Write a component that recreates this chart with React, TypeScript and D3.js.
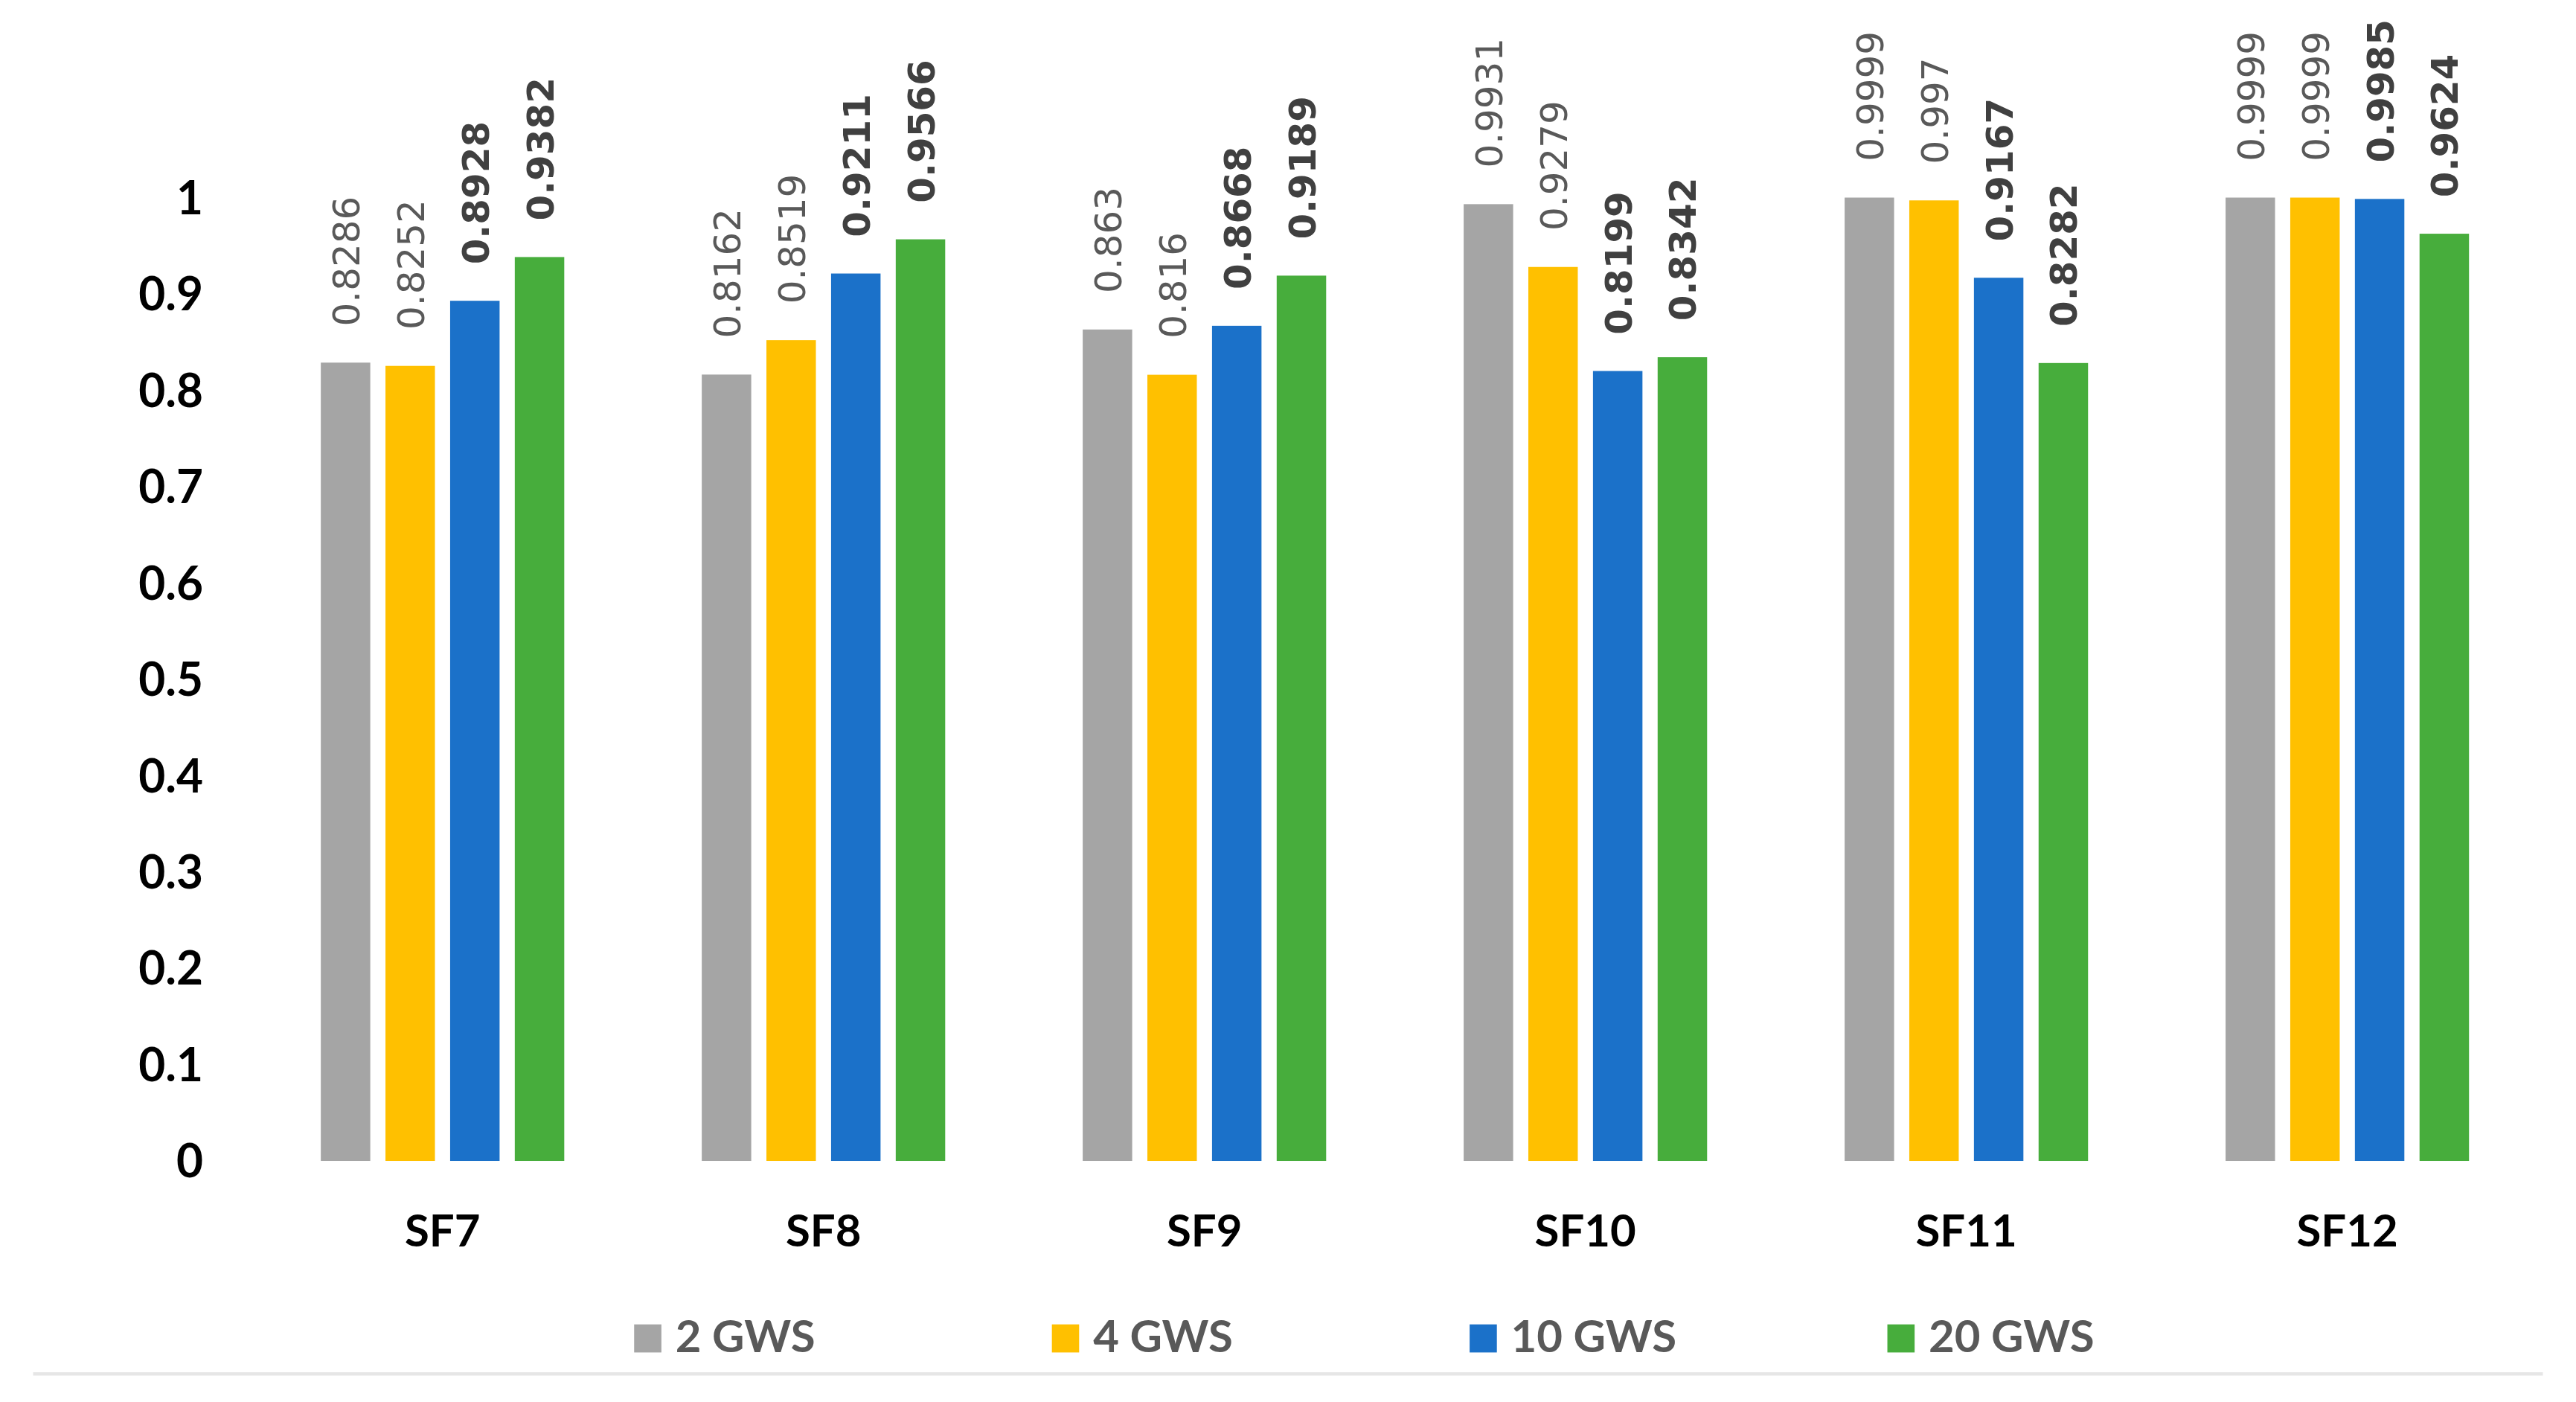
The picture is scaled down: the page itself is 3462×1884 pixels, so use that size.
import React from 'react'
import * as d3 from 'd3'

const categories = ['SF7', 'SF8', 'SF9', 'SF10', 'SF11', 'SF12']
const seriesNames = ['2 GWS', '4 GWS', '10 GWS', '20 GWS']
const gws2 = [0.8286, 0.8162, 0.863, 0.9931, 0.9999, 0.9999]
const gws4 = [0.8252, 0.8519, 0.816, 0.9279, 0.997, 0.9999]
const gws10 = [0.8928, 0.9211, 0.8668, 0.8199, 0.9167, 0.9985]
const gws20 = [0.9382, 0.9566, 0.9189, 0.8342, 0.8282, 0.9624]
const yTicks = [0, 0.1, 0.2, 0.3, 0.4, 0.5, 0.6, 0.7, 0.8, 0.9, 1]

const colors = ['#a5a5a5', '#ffc000', '#1b71c9', '#47ad3c']
const allSeries = [gws2, gws4, gws10, gws20]

const W = 1560
const H = 849

const App: React.FC = () => {
  React.useEffect(() => {
    document.body.style.margin = '0'
  }, [])

  const x0 = d3
    .scaleBand<string>()
    .domain(categories)
    .range([152.6, 1536.9])
    .paddingInner(0.361)
    .paddingOuter(0.1805)

  const x1 = d3
    .scaleBand<string>()
    .domain(seriesNames)
    .range([0, x0.bandwidth()])
    .paddingInner(0.235)

  const y = d3.scaleLinear().domain([0, 1]).range([703, 119.6])

  const legendX = d3.scalePoint<string>().domain(seriesNames).range([384, 1143])

  const labelSize = 22.5

  return (
    <svg width={3462} height={1884} viewBox={`0 0 ${W} ${H}`} style={{ display: 'block' }}>
      <rect width={W} height={H} fill="#fff" />

      {/* y tick labels */}
      <g fontFamily="Lato" fontWeight="bold" fontSize={28} fill="#000" textAnchor="end">
        {yTicks.map((t) => (
          <text key={t} x={123} y={y(t)} dy="0.36em">
            {d3.format('~g')(t)}
          </text>
        ))}
      </g>

      {/* bars and value labels */}
      {categories.map((cat, ci) => (
        <g key={cat} transform={`translate(${x0(cat)},0)`}>
          {seriesNames.map((s, si) => {
            const v = allSeries[si][ci]
            const bx = x1(s) as number
            const cx = bx + x1.bandwidth() / 2
            const top = y(v)
            const bold = si >= 2
            return (
              <g key={s}>
                <rect x={bx} y={top} width={x1.bandwidth()} height={y(0) - top} fill={colors[si]} />
                <text
                  transform={`translate(${cx + labelSize * 0.37},${top - 22}) rotate(-90)`}
                  fontFamily="DejaVu Sans"
                  fontWeight={bold ? 'bold' : 'normal'}
                  fontSize={labelSize}
                  fill={bold ? '#404040' : '#595959'}
                >
                  {String(v)}
                </text>
              </g>
            )
          })}
        </g>
      ))}

      {/* category labels */}
      <g fontFamily="Lato" fontWeight="bold" fontSize={27} fill="#000" textAnchor="middle">
        {categories.map((c) => (
          <text key={c} x={(x0(c) as number) + x0.bandwidth() / 2} y={755}>
            {c}
          </text>
        ))}
      </g>

      {/* legend */}
      <g fontFamily="Lato" fontWeight="bold" fontSize={27} fill="#595959">
        {seriesNames.map((s, i) => (
          <g key={s} transform={`translate(${legendX(s)},0)`}>
            <rect x={0} y={802} width={16.5} height={17} fill={colors[i]} />
            <text x={25} y={819}>
              {s}
            </text>
          </g>
        ))}
      </g>

      <line x1={20} x2={1540} y1={832} y2={832} stroke="#e6e6e6" strokeWidth={2} />
    </svg>
  )
}

export default App
